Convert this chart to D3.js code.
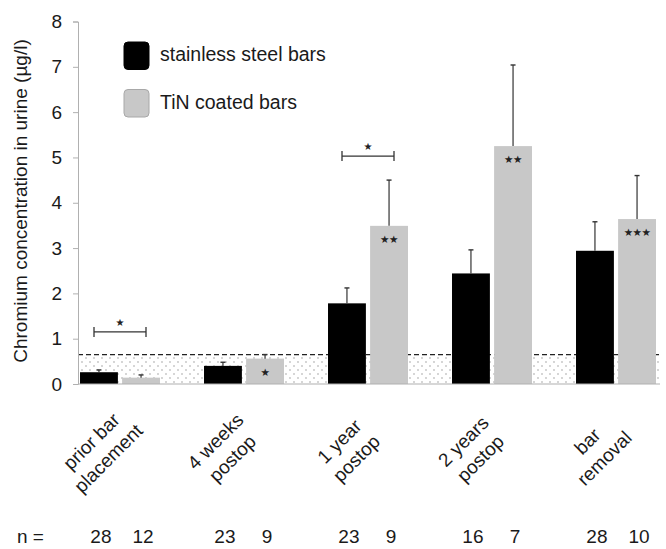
<!DOCTYPE html>
<html>
<head>
<meta charset="utf-8">
<script src="https://cdn.jsdelivr.net/npm/d3@7"></script>
<style>
  body { margin: 0; background: #fff; }
  svg { display: block; font-family: "Liberation Sans", Arial, sans-serif; }
</style>
</head>
<body>
<svg id="chart" width="666" height="549"></svg>
<script>
// data
const categories = ["prior bar placement", "4 weeks postop", "1 year postop", "2 years postop", "bar removal"];
const categoryLines = [["prior bar", "placement"], ["4 weeks", "postop"], ["1 year", "postop"], ["2 years", "postop"], ["bar", "removal"]];
const series = ["stainless steel bars", "TiN coated bars"];
const steelMean = [0.26, 0.40, 1.78, 2.44, 2.94];
const steelErr  = [0.05, 0.08, 0.34, 0.52, 0.64];
const tinMean   = [0.14, 0.56, 3.49, 5.25, 3.64];
const tinErr    = [0.06, 0.09, 1.01, 1.79, 0.96];
const steelN = [28, 23, 23, 16, 28];
const tinN   = [12, 9, 9, 7, 10];
const tinStars = ["", "★", "★★", "★★", "★★★"];
const brackets = [{ cat: 0, y: 1.15, label: "★" }, { cat: 2, y: 5.03, label: "★" }];
const detectionLimit = 0.65;
const yTicks = [0, 1, 2, 3, 4, 5, 6, 7, 8];

const svg = d3.select("#chart");
const colors = { steel: "#000000", tin: "#c8c8c8" };
const textColor = "#1a1a1a";
const axisLeftX = 78, axisRightX = 660;

const y = d3.scaleLinear().domain([0, 8]).range([384, 21.5]);

const x0 = d3.scaleBand()
  .domain(categories)
  .range([58, 678])
  .paddingInner(0.355)
  .paddingOuter(0.1775);

const x1 = d3.scaleBand()
  .domain(series)
  .range([0, x0.bandwidth()])
  .paddingInner(0.1);

const rows = categories.map((c, i) => ({
  cat: c, i,
  bars: [
    { s: series[0], mean: steelMean[i], err: steelErr[i], n: steelN[i], fill: colors.steel, stars: "" },
    { s: series[1], mean: tinMean[i], err: tinErr[i], n: tinN[i], fill: colors.tin, stars: tinStars[i] }
  ]
}));

// dotted zone below detection limit
const defs = svg.append("defs");
const pat = defs.append("pattern")
  .attr("id", "dots")
  .attr("patternUnits", "userSpaceOnUse")
  .attr("width", 8).attr("height", 8);
pat.append("circle").attr("cx", 2).attr("cy", 2).attr("r", 0.7).attr("fill", "#8c8c8c");
pat.append("circle").attr("cx", 6).attr("cy", 6).attr("r", 0.7).attr("fill", "#8c8c8c");

svg.append("rect")
  .attr("x", axisLeftX)
  .attr("y", y(detectionLimit))
  .attr("width", axisRightX - axisLeftX)
  .attr("height", y(0) - y(detectionLimit))
  .attr("fill", "url(#dots)");

svg.append("line")
  .attr("x1", axisLeftX).attr("x2", axisRightX)
  .attr("y1", y(detectionLimit)).attr("y2", y(detectionLimit))
  .attr("stroke", "#222")
  .attr("stroke-width", 1.3)
  .attr("stroke-dasharray", "5,3");

// y axis
const yAxis = svg.append("g")
  .attr("transform", `translate(${axisLeftX},0)`)
  .call(d3.axisLeft(y).tickValues(yTicks).tickSize(5).tickPadding(11).tickFormat(d3.format("d")));
yAxis.select(".domain").attr("stroke", "#b0b0b0");
yAxis.selectAll(".tick line").attr("stroke", "#b0b0b0");
yAxis.selectAll(".tick text")
  .attr("fill", textColor)
  .style("font-size", "19px")
  .style("font-family", "'Liberation Sans', Arial, sans-serif");

svg.append("text")
  .attr("transform", `translate(27,201) rotate(-90)`)
  .attr("text-anchor", "middle")
  .attr("fill", textColor)
  .style("font-size", "19px")
  .text("Chromium concentration in urine (µg/l)");

// bars
const groups = svg.selectAll("g.group")
  .data(rows)
  .join("g")
  .attr("class", "group")
  .attr("transform", d => `translate(${x0(d.cat)},0)`);

groups.selectAll("rect.bar")
  .data(d => d.bars)
  .join("rect")
  .attr("class", "bar")
  .attr("x", d => x1(d.s))
  .attr("width", x1.bandwidth())
  .attr("y", d => y(d.mean))
  .attr("height", d => y(0) - y(d.mean))
  .attr("fill", d => d.fill);

// error bars (upper only)
const eb = groups.selectAll("g.err")
  .data(d => d.bars)
  .join("g")
  .attr("class", "err")
  .attr("transform", d => `translate(${x1(d.s) + x1.bandwidth() / 2},0)`);
eb.append("line")
  .attr("y1", d => y(d.mean)).attr("y2", d => y(d.mean + d.err))
  .attr("stroke", "#333").attr("stroke-width", 1.2);
eb.append("line")
  .attr("x1", -2.5).attr("x2", 2.5)
  .attr("y1", d => y(d.mean + d.err)).attr("y2", d => y(d.mean + d.err))
  .attr("stroke", "#333").attr("stroke-width", 1.4);

// stars inside TiN bars
groups.selectAll("text.star")
  .data(d => d.bars.filter(b => b.stars))
  .join("text")
  .attr("class", "star")
  .attr("x", d => x1(d.s) + x1.bandwidth() / 2)
  .attr("y", d => y(d.mean) + 17)
  .attr("text-anchor", "middle")
  .attr("fill", "#222")
  .style("font-family", "'DejaVu Sans', sans-serif")
  .style("font-size", "10.5px")
  .style("letter-spacing", "-0.5px")
  .text(d => d.stars);

// x axis line
svg.append("line")
  .attr("x1", axisLeftX).attr("x2", axisRightX)
  .attr("y1", y(0)).attr("y2", y(0))
  .attr("stroke", "#b0b0b0").attr("stroke-width", 1.2);

// significance brackets
const br = svg.selectAll("g.bracket")
  .data(brackets)
  .join("g")
  .attr("class", "bracket")
  .attr("transform", d => `translate(${x0(categories[d.cat]) + x0.bandwidth() / 2},${y(d.y)})`);
br.append("line").attr("x1", -26).attr("x2", 26).attr("stroke", "#333").attr("stroke-width", 1.3);
br.append("line").attr("x1", -26).attr("x2", -26).attr("y1", -5).attr("y2", 5).attr("stroke", "#333").attr("stroke-width", 1.3);
br.append("line").attr("x1", 26).attr("x2", 26).attr("y1", -5).attr("y2", 5).attr("stroke", "#333").attr("stroke-width", 1.3);
br.append("text")
  .attr("y", -6)
  .attr("text-anchor", "middle")
  .attr("fill", "#222")
  .style("font-family", "'DejaVu Sans', sans-serif")
  .style("font-size", "10px")
  .text(d => d.label);

// category labels, rotated
const lab = svg.selectAll("g.catlabel")
  .data(rows)
  .join("g")
  .attr("class", "catlabel")
  .attr("transform", d => `translate(${x0(d.cat) + x0.bandwidth() / 2 - 24},446) rotate(-45)`);
lab.selectAll("text")
  .data(d => categoryLines[d.i])
  .join("text")
  .attr("y", (d, i) => i * 24)
  .attr("text-anchor", "middle")
  .attr("fill", textColor)
  .style("font-size", "19px")
  .text(d => d);

// n row
svg.append("text")
  .attr("x", 17).attr("y", 543)
  .attr("fill", textColor)
  .style("font-size", "19px")
  .text("n =");
groups.selectAll("text.n")
  .data(d => d.bars)
  .join("text")
  .attr("class", "n")
  .attr("x", d => x1(d.s) + x1.bandwidth() / 2 + 2)
  .attr("y", 543)
  .attr("text-anchor", "middle")
  .attr("fill", textColor)
  .style("font-size", "19px")
  .text(d => d.n);

// legend
const legend = svg.append("g").attr("transform", "translate(124,42)");
legend.selectAll("g.item")
  .data(series)
  .join("g")
  .attr("class", "item")
  .attr("transform", (d, i) => `translate(0,${i * 47.5})`)
  .each(function(d, i) {
    const row = d3.select(this);
    row.append("rect")
      .attr("width", 25).attr("height", 27.5)
      .attr("rx", 4).attr("ry", 4)
      .attr("fill", i === 0 ? colors.steel : colors.tin)
      .attr("stroke", i === 0 ? "#000" : "#a8a8a8")
      .attr("stroke-width", 1);
    row.append("text")
      .attr("x", 36).attr("y", 19)
      .attr("fill", textColor)
      .style("font-size", "19.5px")
      .text(d);
  });
</script>
</body>
</html>
